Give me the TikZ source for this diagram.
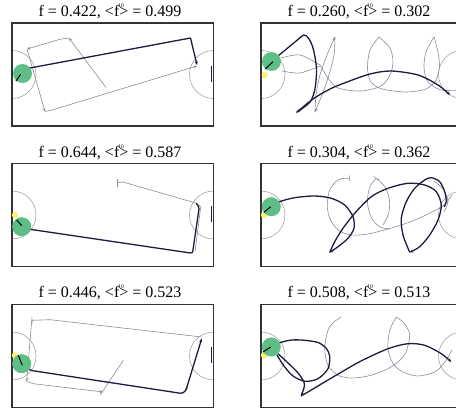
\documentclass[tikz,border=0pt]{standalone}
\usepackage{fontspec}
\setmainfont{Liberation Serif}
\usetikzlibrary{arrows.meta}
\definecolor{trackdark}{RGB}{28,28,62}
\definecolor{tracklight}{RGB}{138,138,158}
\definecolor{fieldgray}{RGB}{150,150,155}
\definecolor{robotgreen}{RGB}{95,190,135}
\definecolor{ballyellow}{RGB}{250,242,110}
\newcommand{\fscore}[2]{f = #1, <f\rlap{\kern-1pt\raisebox{1.25ex}{\fontsize{5.5}{6}\selectfont 10}}> = #2}

\begin{document}
\begin{tikzpicture}[x=1pt, y=-1pt,
    framebox/.style={draw=black!80, line width=1.5pt},
    fieldline/.style={draw=fieldgray, line width=0.5pt},
    bestpath/.style={draw=trackdark, line width=1.3pt},
    otherpath/.style={draw=tracklight, line width=0.6pt},
    endtip/.style={-{Stealth[length=3.5pt, width=3pt]}},
    robot/.style={fill=robotgreen},
    ball/.style={fill=ballyellow},
    heading/.style={draw=black, line width=1pt},
    paneltitle/.style={anchor=base, font=\fontsize{16}{19}\selectfont}]
    \useasboundingbox (0,0) rectangle (456,409);
    \clip (0,0) rectangle (456,409);

    % Fields: centre circles, goals and frames
    \foreach \px in {12,261} {
        \foreach \py in {23,163.5,304.5} {
            \begin{scope}
                \clip (\px,\py) rectangle ++(201.5,103);
                \draw[fieldline] (\px,\py+51.5) circle (24);
                \draw[fieldline] (\px+201.5,\py+51.5) circle (24);
                \draw[trackdark, line width=1.8pt] (\px+199.5,\py+43) -- ++(0,16);
            \end{scope}
            \draw[framebox] (\px,\py) rectangle ++(201.5,103);
        }
    }

    % Titles
    \node[paneltitle] (title1) at (110,16.5) {\fscore{0.422}{0.499}};
    \node[paneltitle] (title2) at (359,16.5) {\fscore{0.260}{0.302}};
    \node[paneltitle] (title3) at (110,158) {\fscore{0.644}{0.587}};
    \node[paneltitle] (title4) at (359,158) {\fscore{0.304}{0.362}};
    \node[paneltitle] (title5) at (110,297.5) {\fscore{0.446}{0.523}};
    \node[paneltitle] (title6) at (359,297.5) {\fscore{0.508}{0.513}};

    % Panel 1
    \draw[otherpath, endtip] (106,87.5) -- (69,38);
    \draw[otherpath, endtip] (69,38) -- (60,39.3) -- (27,49);
    \draw[otherpath, endtip] (27,49) -- (45,111.5);
    \draw[otherpath, endtip] (45,111.5) -- (52,110) -- (197,66);
    \draw[bestpath] (22.5,73.5) -- (30,68) -- (190.5,38);
    \draw[bestpath, endtip] (190.5,38) -- (197,65);
    \fill[robot] (22.5,73.5) circle (9.5);
    \draw[heading] (16,81) -- (20.7,74.3);

    % Panel 2
    \draw[otherpath] plot[smooth] coordinates {(281,58) (300,55) (320,65)};
    \draw[otherpath] plot[smooth] coordinates {(282,71) (300,73) (320,66)};
    \draw[otherpath, endtip] plot[smooth] coordinates {(315,112) (316,95) (320,75) (327,55) (335,37)};
    \draw[otherpath, endtip] plot[smooth] coordinates {(335,37) (334,55) (329,75) (322,95) (315,112)};
    \draw[otherpath] plot[smooth] coordinates {(320,65) (328,78) (338,88) (361,91) (381,86)
        (390,75) (393,62) (390,48) (379,37)};
    \draw[otherpath] plot[smooth] coordinates {(379,37) (370,50) (367.5,68) (371,82) (382,89)
        (406,92) (426,89) (436,80) (439.5,66) (437.5,50) (434,37)};
    \draw[otherpath] plot[smooth] coordinates {(434,37) (426,52) (424,68) (428,82) (441,90) (458,90)};
    \draw[bestpath, endtip] plot[smooth] coordinates {(271.5,61.5) (281,53.5) (295,42) (304,35)
        (309,39) (313.3,49) (316.5,68.5) (315,88.5) (310,102) (296.5,112.5)};
    \draw[bestpath, endtip] plot[smooth] coordinates {(296.5,112.5) (313,99) (330,89) (347,82)
        (370,74) (391,71) (418,75) (438,85) (450,95)};
    \fill[ball] (264.7,75) circle (3.2);
    \fill[robot] (271.5,61.5) circle (9.5);
    \draw[heading] (265.3,69) -- (273,61.7);

    % Panel 3
    \draw[otherpath, {Bar[width=8pt]}-] (116.5,183) to[out=0, in=175] (123,182) -- (196.7,203.3)
        -- (200.7,207) -- (195,252);
    \draw[bestpath, rounded corners=2pt] (21.7,226.7) -- (30,229.3) -- (192.5,253.3)
        -- (199.3,206.7) -- (196,203.3);
    \fill[ball] (15,215) circle (3.2);
    \fill[robot] (21.7,226.7) circle (9.5);
    \draw[heading] (16.7,220) -- (21.7,225.7);

    % Panel 4
    \draw[otherpath, {Bar[width=6pt]}-] plot[smooth] coordinates {(349.7,178.3) (338,180)
        (329.7,190) (327.3,205) (329.7,218.3) (338,230) (351.3,235) (368,234) (388,229)
        (410,222) (430,213) (444,205) (452,195)};
    \draw[otherpath, {Bar[width=6pt]}-] plot[smooth] coordinates {(376.3,178.3) (369.5,188)
        (367.5,203) (371.5,218) (380,227) (390,229)};
    \draw[otherpath] plot[smooth] coordinates {(377,178.5) (385,187) (389.5,200) (388.5,214) (383,225)};
    \draw[otherpath] plot[smooth] coordinates {(434,181) (443,189) (448,201) (444,212)};
    \draw[bestpath, endtip] plot[smooth] coordinates {(271.3,206.7) (279.7,201.7) (294.7,197.7)
        (314.7,196) (331.3,198.3) (344.7,205) (353,216.7) (354,228.3) (348,238.3) (338,246.7)
        (329.7,252.5)};
    \draw[bestpath, endtip] plot[smooth] coordinates {(329.7,252.5) (334.7,241.7) (343,228.3)
        (354.7,213.3) (371.3,196.7) (388,188.3) (408,183.3) (424.7,185) (436.3,191.7) (441.3,205)
        (438,220) (429.7,235) (419.7,246.7) (409.7,252.3)};
    \draw[bestpath] plot[smooth] coordinates {(409.7,252.3) (403,235) (401.3,218.3) (406.3,201.7)
        (414.7,188.3) (424.7,180) (431.3,177.7) (439.7,181.7) (444.7,191.7) (446.3,201.7) (444,206.7)};
    \fill[ball] (264,215) circle (3.2);
    \fill[robot] (271.3,206.7) circle (9.5);
    \draw[heading] (264,212.3) -- (270.7,206.7);

    % Panel 5
    \draw[otherpath, {Bar[width=7pt]}-] (31.7,320.3) -- (50,319.7) -- (201.7,337);
    \draw[otherpath, endtip] (31.7,320.3) -- (26.7,381.5);
    \draw[otherpath, endtip] (26.7,381.5) -- (33.3,383.7) -- (103.3,392);
    \draw[otherpath] (100,395.3) -- (123.3,360.3);
    \draw[bestpath, rounded corners=3pt] (21.7,363.7) -- (30,370.3) -- (183.3,393.7)
        -- (187,388);
    \draw[bestpath, endtip] (186,390) -- (201.7,338.7);
    \fill[ball] (15,355.3) circle (3.2);
    \fill[robot] (21.7,363.7) circle (9.5);
    \draw[heading] (18.3,355.3) -- (22.3,365.3);

    % Panel 6
    \draw[otherpath] plot[smooth] coordinates {(341.3,317) (334,322) (328,330.3) (324.7,348.7)
        (328,365.3) (338,375.3) (351.3,378) (368,376) (384.7,370.3) (398,362) (406,352)
        (409.7,335.3) (404.7,323.7) (396.3,317)};
    \draw[otherpath] plot[smooth] coordinates {(396.3,317) (389.7,330.3) (388,348.7) (393,363.7)
        (403,372) (418,376) (434.7,372) (445,362) (452,350)};
    \draw[bestpath] plot[smooth] coordinates {(271.3,347) (279.7,342.7) (292,340) (304.7,340.3)
        (318,342.5) (326,348) (329.7,356) (328,368.7) (318,378.7) (305,381.3) (293,376) (284,366)
        (277,355)};
    \draw[bestpath, endtip] plot[smooth] coordinates {(276,352) (287,362) (298,373) (304.5,384)
        (301,396)};
    \draw[bestpath, endtip] plot[smooth] coordinates {(301,396) (313,389) (328,380) (345,370)
        (361,361) (388,348.7) (408,343.7) (424.7,345.3) (441.3,353.7) (451.3,362)};
    \fill[ball] (264,355.3) circle (3.2);
    \fill[robot] (271.3,347) circle (9.5);
    \draw[heading] (263,352) -- (270.7,347);
\end{tikzpicture}
\end{document}
